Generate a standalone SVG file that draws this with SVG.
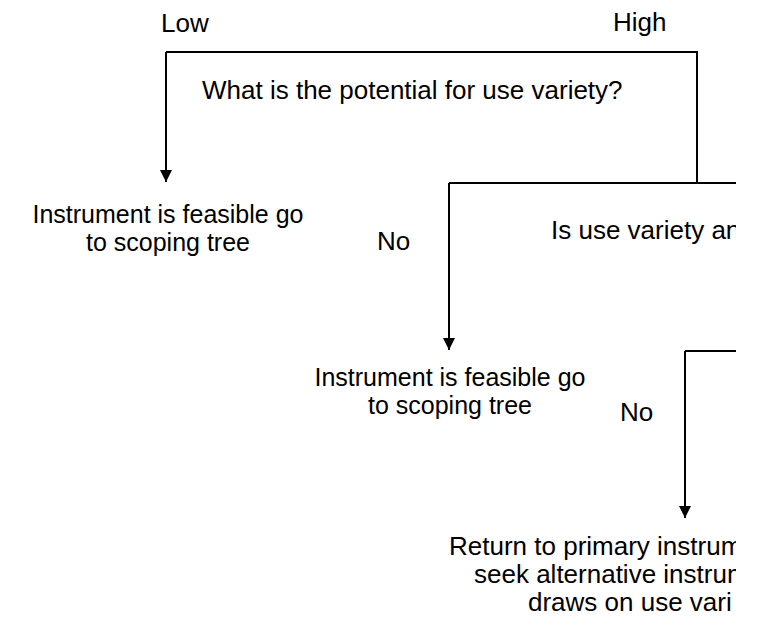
<svg xmlns="http://www.w3.org/2000/svg" width="764" height="627" viewBox="0 0 764 627">
  <style>
    text { font-family: "Liberation Sans", Arial, sans-serif; font-size: 26px; fill: #000; }
    .out { font-size: 25px; text-anchor: middle; }
    .wire { fill: none; stroke: #000; stroke-width: 2; }
  </style>
  <defs>
    <marker id="head" viewBox="0 0 12 12" refX="12" refY="6" markerWidth="12" markerHeight="12" markerUnits="userSpaceOnUse" orient="auto">
      <path d="M0,0 L12,6 L0,12 Z" fill="#000"/>
    </marker>
    <clipPath id="page">
      <rect x="0" y="0" width="736" height="627"/>
    </clipPath>
  </defs>
  <rect width="764" height="627" fill="#fff"/>

  <g clip-path="url(#page)">
    <g id="connectors">
      <!-- first question: Low / High branches -->
      <path class="wire" d="M166,52 H697 V183" />
      <path class="wire" d="M166,52 V182" marker-end="url(#head)"/>
      <!-- second question: No branch -->
      <path class="wire" d="M449,183 H736" />
      <path class="wire" d="M449,183 V350" marker-end="url(#head)"/>
      <!-- third question: No branch -->
      <path class="wire" d="M685,351 H736" />
      <path class="wire" d="M685,351 V518" marker-end="url(#head)"/>
    </g>

    <g id="label-low"><text x="161" y="32">Low</text></g>
    <g id="label-high"><text x="613" y="31">High</text></g>
    <g id="q-potential"><text x="202" y="99">What is the potential for use variety?</text></g>

    <g id="feasible-1">
      <text class="out" x="168" y="223">Instrument is feasible go</text>
      <text class="out" x="168" y="251">to scoping tree</text>
    </g>
    <g id="label-no-1"><text x="377" y="250">No</text></g>
    <g id="q-use-variety"><text x="551" y="239">Is use variety an</text></g>

    <g id="feasible-2">
      <text class="out" x="450" y="386">Instrument is feasible go</text>
      <text class="out" x="450" y="414">to scoping tree</text>
    </g>
    <g id="label-no-2"><text x="620" y="421">No</text></g>

    <g id="return-primary">
      <text x="449" y="555">Return to primary instrum</text>
      <text x="474" y="583">seek alternative instrum</text>
      <text x="528" y="611">draws on use vari</text>
    </g>
  </g>
</svg>
